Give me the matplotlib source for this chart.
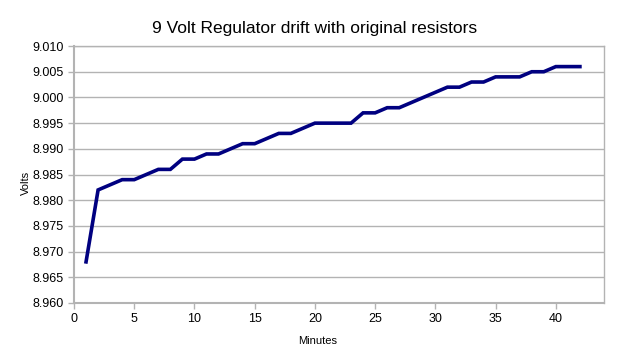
import matplotlib
matplotlib.use("Agg")
import matplotlib.pyplot as plt

minutes = list(range(1, 43))
volts = [8.968, 8.982, 8.983, 8.984, 8.984, 8.985, 8.986, 8.986, 8.988, 8.988,
         8.989, 8.989, 8.990, 8.991, 8.991, 8.992, 8.993, 8.993, 8.994, 8.995,
         8.995, 8.995, 8.995, 8.997, 8.997, 8.998, 8.998, 8.999, 9.000, 9.001,
         9.002, 9.002, 9.003, 9.003, 9.004, 9.004, 9.004, 9.005, 9.005, 9.006,
         9.006, 9.006]
x_ticks = [0, 5, 10, 15, 20, 25, 30, 35, 40]
y_ticks = [8.960 + 0.005 * i for i in range(11)]

plt.rcParams["font.family"] = ["Liberation Sans", "DejaVu Sans"]

fig = plt.figure(figsize=(6.25, 3.57), dpi=100)
ax = fig.add_axes([0.1184, 0.1513, 0.848, 0.7197])

ax.plot(minutes, volts, color="#000080", lw=2.6, solid_joinstyle="miter")

ax.set_xlim(0, 44)
ax.set_ylim(8.960, 9.010)
ax.set_xticks(x_ticks)
ax.set_yticks(y_ticks)
ax.set_yticklabels([f"{v:.3f}" for v in y_ticks])
ax.yaxis.grid(True, color="#b3b3b3", lw=1)
ax.set_axisbelow(True)
for s in ax.spines.values():
    s.set_color("#b3b3b3")
    s.set_linewidth(1)
ax.spines["left"].set_linewidth(1.5)
ax.spines["bottom"].set_linewidth(1.5)
ax.tick_params(colors="#b3b3b3", labelcolor="black", labelsize=9, length=4, width=1)

ax.set_xlabel("Minutes", fontsize=8)
ax.xaxis.set_label_coords(0.46, -0.128)
ax.set_ylabel("Volts", fontsize=8)
ax.yaxis.set_label_coords(-0.081, 0.467)
fig.text(0.504, 0.919, "9 Volt Regulator drift with original resistors",
         fontsize=12.5, ha="center", va="center")

fig.savefig("out.png", dpi=100)
